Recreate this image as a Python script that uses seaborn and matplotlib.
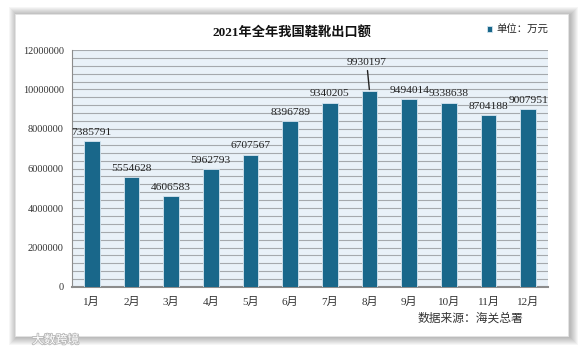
import seaborn as sns
import numpy as np
import pandas as pd
import matplotlib.pyplot as plt
import matplotlib.patheffects as pe
from matplotlib.patches import Rectangle

# Chart data
months = ["1月", "2月", "3月", "4月", "5月", "6月", "7月", "8月", "9月", "10月", "11月", "12月"]
values = [7385791, 5554628, 4606583, 5962793, 6707567, 8396789,
          9340205, 9930197, 9494014, 9338638, 8704188, 9007951]

df = pd.DataFrame({"month": months, "value": values})

sns.set_style("white")
plt.rcParams["font.family"] = ["Liberation Serif", "Noto Sans CJK SC", "DejaVu Sans"]
cjk = ["Noto Sans CJK SC", "DejaVu Sans"]

W, H = 586, 351
fig = plt.figure(figsize=(W / 100, H / 100), dpi=100)
fig.patch.set_facecolor("white")

# card with soft shadow
x0, x1, y0, y1 = 15, 568, 14, 336
for i in range(8, 0, -1):
    fig.patches.append(Rectangle(((x0 - i + 2) / W, 1 - (y1 + i + 1) / H),
                                 (x1 - x0 + 2 * i) / W, (y1 - y0 + 2 * i) / H,
                                 transform=fig.transFigure, facecolor="#000000",
                                 alpha=0.035, edgecolor="none", zorder=-10))
fig.patches.append(Rectangle((x0 / W, 1 - y1 / H), (x1 - x0) / W, (y1 - y0) / H,
                             transform=fig.transFigure, facecolor="white",
                             edgecolor="#e4e4e4", lw=0.6, zorder=-9))

ax = fig.add_axes([72 / W, 1 - 287 / H, (548 - 72) / W, (287 - 50) / H])
ax.set_facecolor("#E9F1F8")
ax.patch.set_zorder(-1)

sns.barplot(data=df, x="month", y="value", color="#19678A", saturation=1,
            width=0.4, edgecolor="#D5E5F0", linewidth=0.6, ax=ax,
            label="单位：万元", zorder=3)

ax.set_ylim(0, 12000000)
ax.set_xlim(-0.5, 11.5)
ax.set_yticks(np.arange(0, 12000001, 2000000))
ax.set_yticks(np.arange(0, 12000001, 400000), minor=True)
ax.set_yticklabels([str(v) for v in range(0, 12000001, 2000000)])
ax.grid(axis="y", which="both", color="#A5A9AD", lw=0.8, zorder=0)
ax.set_axisbelow(True)
ax.tick_params(axis="y", which="major", length=3, color="#888888",
               labelsize=7.5, labelcolor="#333333", pad=3)
ax.tick_params(axis="y", which="minor", length=0)
ax.tick_params(axis="x", length=0, labelsize=8, labelcolor="#333333", pad=7)
ax.set_xlabel("")
ax.set_ylabel("")
for s in ["top", "right"]:
    ax.spines[s].set_visible(False)
ax.spines["left"].set_color("#8c8c8c")
ax.spines["left"].set_linewidth(0.8)
ax.spines["bottom"].set_color("#8c8c8c")
ax.spines["bottom"].set_linewidth(1.5)

# value labels
for i, v in enumerate(values):
    if i == 7:
        ax.annotate(str(v), xy=(i, v), xytext=(-2, 17), textcoords="offset points",
                    ha="center", va="bottom", fontsize=8.2, color="#222222",
                    arrowprops=dict(arrowstyle="-", color="#222222", lw=1,
                                    shrinkA=0, shrinkB=1))
    else:
        ax.annotate(str(v), xy=(i, v), xytext=(0, 3), textcoords="offset points",
                    ha="center", va="bottom", fontsize=8.2, color="#222222")

fig.text(292 / W, 1 - 32 / H, "2021年全年我国鞋靴出口额", ha="center", va="center",
         fontsize=9.5, fontweight="bold", color="#111111")

leg = ax.legend(loc="center left", bbox_to_anchor=(478 / W, 1 - 30 / H),
                bbox_transform=fig.transFigure, frameon=False,
                handlelength=0.45, handleheight=0.45, handletextpad=0.4,
                prop={"family": cjk, "size": 7.5})

fig.text(470 / W, 1 - 318 / H, "数据来源：海关总署", ha="center", va="center",
         fontsize=8.5, color="#333333", family=cjk)
fig.text(32 / W, 1 - 340 / H, "大数跨境", ha="left", va="center",
         fontsize=8.5, color="white", family=cjk,
         path_effects=[pe.withStroke(linewidth=1.2, foreground="#b8b8b8")])

fig.savefig("out.png", dpi=100)
